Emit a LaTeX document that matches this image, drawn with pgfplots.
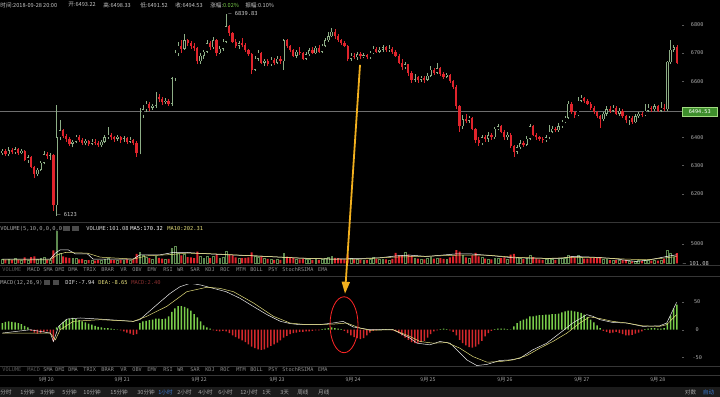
\documentclass[border=0pt]{standalone}
\usepackage{pgfplots}
\pgfplotsset{compat=1.18}
\usepackage{pgfplotstable}
\usepackage{fontspec}
\setmainfont{DejaVu Sans Mono}
\newfontfamily\cjk{Noto Sans CJK SC}
\usetikzlibrary{arrows.meta}
\definecolor{cred}{HTML}{E0242C}
\definecolor{cgreen}{HTML}{8DAE86}
\definecolor{vgreen}{HTML}{5E8A50}
\definecolor{mgreen}{HTML}{79CC4A}
\definecolor{mred}{HTML}{D3282C}
\definecolor{dea}{HTML}{E2DC7A}
\definecolor{txt}{HTML}{A8A8A8}
\definecolor{toptxt}{HTML}{C8C8C8}
\definecolor{dimtxt}{HTML}{5A5A5A}
\definecolor{sep}{HTML}{363636}
\definecolor{tickc}{HTML}{5A5A5A}
\definecolor{arrowc}{HTML}{F2B01E}
\definecolor{blu}{HTML}{3A78D0}
\definecolor{lbl}{HTML}{3E8E2C}
\definecolor{barbg}{HTML}{1C1C1C}
\definecolor{boxc}{HTML}{4A4A4A}
\definecolor{cross}{HTML}{6E6E6E}
\definecolor{macdt}{HTML}{8A3030}

\pgfplotstableread{
o h l c v m
6345 6360 6338 6352 1100 12
6352 6358 6333 6340 900 14
6340 6365 6336 6355 1000 15
6355 6362 6340 6348 800 14
6348 6368 6342 6358 1200 13
6358 6363 6338 6345 900 12
6345 6360 6340 6352 700 10
6352 6356 6315 6320 1500 7
6320 6338 6310 6330 900 4
6330 6333 6290 6295 1600 -2
6295 6300 6255 6270 1800 -5
6270 6292 6262 6285 1100 -7
6285 6318 6280 6310 1300 -6
6310 6352 6305 6340 1500 -4
6340 6348 6325 6335 900 -3
6335 6345 6320 6338 800 -6
6338 6342 6140 6160 3300 -21
6160 6515 6123 6400 8200 4
6400 6462 6390 6425 2600 8
6425 6430 6398 6405 1800 14
6405 6412 6385 6395 1500 18
6395 6400 6370 6378 1400 20
6378 6392 6365 6385 1200 21
6385 6410 6380 6402 1300 19
6402 6408 6385 6392 1000 17
6392 6398 6375 6380 1100 15
6380 6395 6372 6388 900 13
6388 6392 6370 6378 800 11
6378 6393 6372 6385 900 9
6385 6395 6375 6380 700 7
6380 6388 6368 6372 800 5
6372 6390 6368 6385 900 4
6385 6410 6380 6400 1100 3
6400 6437 6395 6410 1300 3
6410 6415 6392 6400 900 2
6400 6405 6385 6395 800 1
6395 6408 6388 6402 700 0.5
6402 6406 6382 6390 900 -1
6390 6405 6385 6398 800 -3
6398 6402 6378 6385 1000 -5
6385 6400 6380 6392 900 -7
6392 6396 6372 6380 1000 -9
6380 6388 6330 6345 2400 -8
6345 6505 6340 6480 2900 12
6480 6515 6470 6500 2000 15
6500 6530 6490 6520 1600 16
6520 6525 6495 6505 1300 17
6505 6520 6498 6512 1100 18
6512 6562 6505 6545 1900 20
6545 6555 6525 6535 1400 20
6535 6542 6515 6525 1200 19
6525 6540 6518 6530 1000 20
6530 6536 6512 6520 1100 24
6520 6615 6512 6610 3800 32
6610 6710 6600 6700 4300 38
6700 6740 6690 6725 2600 42
6725 6745 6700 6715 2000 42
6715 6767 6710 6745 2300 41
6745 6750 6725 6735 1600 38
6735 6742 6715 6725 1500 34
6725 6735 6708 6718 1300 28
6718 6722 6660 6670 3000 22
6670 6700 6662 6690 1700 15
6690 6712 6680 6705 1400 8
6705 6745 6700 6735 1900 4
6735 6742 6710 6720 1300 2
6720 6758 6715 6745 1700 -1
6745 6750 6690 6700 2200 -2
6700 6725 6695 6715 1300 -3
6715 6750 6708 6740 1600 -2
6740 6839.83 6735 6795 3200 -3
6795 6800 6760 6770 2100 -6
6770 6775 6735 6740 2000 -10
6740 6748 6718 6725 1500 -13
6725 6742 6715 6735 1200 -16
6735 6752 6720 6728 1300 -19
6728 6735 6705 6710 1400 -22
6710 6715 6690 6695 1500 -26
6695 6700 6625 6640 2800 -30
6640 6690 6635 6680 1900 -33
6680 6712 6672 6700 1500 -35
6700 6705 6660 6665 1800 -36
6665 6680 6655 6672 1200 -35
6672 6680 6652 6660 1100 -32
6660 6685 6655 6675 1000 -29
6675 6682 6658 6665 900 -26
6665 6690 6660 6680 1000 -23
6680 6688 6662 6670 900 -19
6670 6750 6640 6745 2600 -14
6745 6750 6718 6725 1700 -11
6725 6730 6702 6710 1300 -8
6710 6715 6685 6690 1400 -6
6690 6712 6682 6705 1100 -5
6705 6722 6692 6700 1000 -4
6700 6705 6675 6680 1200 -4
6680 6705 6675 6695 1000 -3
6695 6718 6688 6710 1100 -3
6710 6720 6695 6700 900 -2
6700 6725 6695 6718 1000 -1
6718 6728 6700 6705 900 -1
6705 6732 6700 6725 1100 1
6725 6752 6720 6745 1400 2
6745 6775 6740 6760 1500 3
6760 6789 6755 6775 1700 4
6775 6785 6750 6760 1400 3
6760 6768 6740 6745 1300 2
6745 6750 6728 6735 1100 1
6735 6742 6720 6725 1000 -2
6725 6730 6670 6680 2200 -6
6680 6700 6672 6690 1300 -10
6690 6700 6678 6685 1000 -13
6685 6705 6675 6695 1100 -15
6695 6702 6680 6688 900 -17
6688 6700 6682 6692 800 -15
6692 6698 6678 6685 900 -10
6685 6708 6680 6700 1100 -5
6700 6725 6695 6715 1500 -2
6715 6720 6700 6705 1100 -1
6705 6722 6700 6712 1000 0.5
6712 6728 6705 6720 1100 1
6720 6725 6702 6710 1000 1
6710 6728 6705 6715 900 0.5
6715 6720 6698 6705 1100 -1
6705 6710 6685 6690 2700 -3
6690 6695 6660 6665 1900 -6
6665 6680 6640 6650 2000 -10
6650 6668 6642 6660 2900 -14
6660 6662 6620 6630 2200 -18
6630 6635 6595 6605 1900 -22
6605 6625 6598 6615 1400 -24
6615 6620 6595 6605 1200 -24
6605 6620 6598 6612 1100 -22
6612 6618 6595 6605 1000 -20
6605 6630 6600 6620 1200 -14
6620 6655 6615 6640 1600 -8
6640 6645 6622 6630 1200 -3
6630 6664 6625 6645 1400 -1
6645 6650 6620 6625 1300 1
6625 6632 6608 6615 1100 2
6615 6630 6610 6622 1000 1
6622 6625 6595 6600 1500 -1
6600 6605 6572 6580 1800 -4
6580 6585 6500 6510 3400 -10
6510 6515 6420 6440 3000 -18
6440 6480 6430 6465 2100 -24
6465 6482 6450 6460 1500 -28
6460 6478 6450 6470 1300 -31
6470 6472 6425 6430 2000 -32
6430 6435 6380 6390 2700 -30
6390 6400 6370 6380 1800 -26
6380 6410 6372 6400 1600 -20
6400 6410 6385 6395 1200 -12
6395 6418 6385 6408 1100 -6
6408 6415 6392 6400 1000 -2
6400 6438 6395 6430 1300 1
6430 6448 6425 6440 1200 2
6440 6445 6415 6420 1300 2
6420 6425 6392 6400 1500 2
6400 6418 6392 6410 1100 1
6410 6415 6362 6370 2200 0.5
6370 6375 6331 6350 2400 6
6350 6372 6340 6365 1600 12
6365 6392 6358 6380 1400 16
6380 6388 6368 6375 1100 18
6375 6405 6370 6395 1300 20
6395 6448 6390 6440 2000 24
6440 6445 6405 6410 1600 24
6410 6415 6392 6400 1200 25
6400 6405 6388 6395 1000 26
6395 6400 6382 6390 900 26
6390 6410 6385 6400 1000 27
6400 6445 6395 6420 1300 27
6420 6440 6415 6430 1100 28
6430 6438 6418 6425 900 28
6425 6450 6420 6440 1100 29
6440 6462 6435 6455 1200 31
6455 6478 6450 6470 1300 33
6470 6530 6465 6520 2200 34
6520 6525 6485 6490 1800 34
6490 6495 6470 6480 1500 33
6480 6545 6475 6530 2200 32
6530 6551 6525 6540 1500 30
6540 6545 6522 6530 1200 27
6530 6538 6515 6520 1200 23
6520 6525 6498 6505 1300 18
6505 6510 6482 6490 1400 13
6490 6495 6468 6475 1300 8
6475 6480 6434 6465 1500 3
6465 6492 6460 6485 1100 -2
6485 6510 6478 6500 1000 -4
6500 6512 6488 6495 800 -6
6495 6515 6490 6505 700 -5
6505 6510 6480 6485 900 -4
6485 6505 6478 6495 700 -6
6495 6500 6470 6475 800 -8
6475 6480 6450 6462 900 -10
6462 6478 6445 6470 600 -10
6470 6475 6448 6455 500 -9
6455 6482 6450 6475 600 -7
6475 6492 6470 6485 700 -5
6485 6492 6472 6480 600 -3
6480 6520 6475 6495 900 1
6495 6520 6490 6505 800 2
6505 6512 6492 6500 700 3
6500 6520 6495 6510 800 3
6510 6515 6490 6495 700 2
6495 6525 6490 6505 900 2
6505 6520 6495 6500 1100 3
6500 6672 6495 6668 3400 12
6668 6746 6660 6712 2500 25
6712 6730 6705 6720 1600 38
6720 6730 6660 6665 2600 45
}\candles

\pgfplotsset{
  panel/.style={scale only axis, width=682pt, xmin=-0.625, xmax=212.5,
    axis x line=none, axis y line*=right, y axis line style={draw=none},
    tick align=outside, major tick length=2.5pt, ytick style={draw=tickc, line width=0.4pt},
    yticklabel style={font=\fontsize{5.2}{6}\selectfont, text=txt, anchor=center, xshift=13pt},
    anchor=south west},
  up/.style={restrict x to domain=-5:300, forget plot},
}
\newcommand{\upx}{\thisrow{c}>=\thisrow{o} ? \coordindex : -100}
\newcommand{\dnx}{\thisrow{c}<\thisrow{o} ? \coordindex : -100}

\begin{document}
\begin{tikzpicture}[x=1pt,y=1pt,
  tx/.style={anchor=west, inner sep=0pt, font=\fontsize{5.4}{6}\selectfont, text=txt},
  cx/.style={anchor=west, inner sep=0pt, font=\fontsize{5.6}{6}\selectfont\cjk, text=txt}]
\fill[black] (0,0) rectangle (720,397);
\fill[barbg] (0,0) rectangle (720,10);
% separators
\draw[sep, line width=0.6pt] (0,175) -- (720,175);
\draw[sep, line width=0.5pt] (0,131.5) -- (720,131.5);
\draw[sep, line width=0.5pt] (0,121) -- (720,121);
\draw[sep, line width=0.5pt] (0,30) -- (720,30);
\draw[sep, line width=0.5pt] (0,21) -- (720,21);
% crosshair
\draw[cross, line width=0.4pt] (0,286.06) -- (682,286.06);

% ---------------- main price panel
\begin{axis}[panel, at={(0pt,176pt)}, height=211pt, ymin=6104.3, ymax=6852.5,
  ytick={6200,6300,6400,6600,6700,6800},
  yticklabels={6200,6300,6400,6600,6700,6800}]
\addplot[up, cred, line width=0.5pt, quiver={u=0, v=\thisrow{h}-\thisrow{l}}]
  table[x expr={\dnx}, y=l] {\candles};
\addplot[up, cred, line width=2.2pt, quiver={u=0, v={max(\thisrow{o}-\thisrow{c},1.5)}}]
  table[x expr={\dnx}, y=c] {\candles};
\addplot[up, cgreen, line width=0.5pt, quiver={u=0, v=\thisrow{h}-\thisrow{l}}]
  table[x expr={\upx}, y=l] {\candles};
\addplot[up, cgreen, line width=2.3pt, quiver={u=0, v={max(\thisrow{c}-\thisrow{o},1.5)}}]
  table[x expr={\upx}, y=o] {\candles};
\addplot[up, black, line width=1.4pt, quiver={u=0, v={max(\thisrow{c}-\thisrow{o}-3.2,0)}}]
  table[x expr={\upx}, y expr=\thisrow{o}+1.6] {\candles};
\end{axis}

% ---------------- volume panel
\begin{axis}[panel, at={(0pt,133.5pt)}, height=32.5pt, ymin=0, ymax=8333,
  ytick={5000}, yticklabels={5000}]
\addplot[up, ybar, bar width=2.0pt, bar shift=0pt, fill=cred, draw=none]
  table[x expr={\dnx}, y=v] {\candles};
\addplot[up, ybar, bar width=1.8pt, bar shift=0pt, fill=black, draw=vgreen, line width=0.4pt]
  table[x expr={\upx}, y=v] {\candles};
\addplot[white, line width=0.5pt] coordinates {(0,1070) (15,1070) (16.6,2600) (18.1,3450) (20.6,3450) (22.8,2430) (26.6,2430) (28.4,1070) (40.9,1070) (43.1,2180) (49.4,2180) (53.4,2770) (57.8,2770) (64.1,2430) (70.3,2180) (78.4,1920) (86.9,1580) (93.1,1320) (103.4,1070) (111.9,1240) (118.1,1410) (123.4,1920) (127.5,2090) (132.8,1750) (142.2,2430) (146.25,2430) (153.4,1920) (159.7,1410) (165.9,1320) (174.4,1240) (178.4,1750) (184.7,1580) (190.9,1240) (195.3,730) (198.4,470) (202.5,900) (207.8,1750) (210.9,2180)};
\addplot[dea, line width=0.5pt] coordinates {(0,900) (15,900) (17.2,2180) (19.7,2770) (26.6,2600) (30.6,1580) (40.9,1070) (45.3,1920) (51.6,2180) (57.8,2600) (65.9,2430) (74.4,2090) (82.8,1750) (91,1400) (103.4,1070) (111.9,1070) (122.2,1580) (130.6,1750) (143.1,2090) (151.6,2090) (159.7,1580) (170.3,1240) (178.4,1500) (186.9,1410) (195.3,1070) (201.6,900) (207.8,1410) (210.9,1750)};
\end{axis}

% ---------------- MACD panel
\begin{axis}[panel, at={(0pt,31pt)}, height=81pt, ymin=-64.3, ymax=80.4,
  ytick={-50,0,50}, yticklabels={-50,0,50}]
\addplot[restrict x to domain=-5:300, forget plot, ybar, bar width=1.5pt, bar shift=0pt, fill=mgreen, draw=none]
  table[x expr={\thisrow{m}>0 ? \coordindex : -100}, y=m] {\candles};
\addplot[restrict x to domain=-5:300, forget plot, ybar, bar width=1.5pt, bar shift=0pt, fill=mred, draw=none]
  table[x expr={\thisrow{m}<0 ? \coordindex : -100}, y=m] {\candles};
\addplot[white!92!black, line width=0.5pt] coordinates {(0,-6) (8.75,0) (15,-6) (16,-21) (17.6,6) (20.2,19) (24.4,21) (30.6,19) (41,15) (43,18) (46,33) (49,48) (52.5,65) (55.6,77) (58.8,83) (62,80) (66,74) (70,68) (74.4,56) (78.4,42) (82.8,27) (87,15) (90,11) (93,9) (99,9) (103.4,12) (106.6,15) (109.7,5) (111.9,3) (115,0) (122.2,0) (127.5,-15) (129.7,-24) (133.75,-27) (136.9,-21) (140,-24) (142.2,-36) (145.3,-54) (148.4,-64) (151.6,-62) (155.6,-55) (158.75,-54) (161.9,-51) (165.9,-36) (170.3,-24) (174.4,-6) (178.4,12) (182.8,27) (184.7,24) (186.9,18) (190.9,13) (195.3,12) (200.3,6) (205.6,7) (207.8,12) (210.9,49)};
\addplot[dea, line width=0.5pt] coordinates {(0,-6) (15,-6) (16.6,-18) (18.1,0) (22.2,15) (30.6,18) (41,15) (45.2,24) (51.5,42) (57.7,68) (64,76) (68.1,74) (72.3,68) (78.5,48) (84.8,24) (90,12) (95.2,9) (103.5,10) (107.7,12) (111.9,3) (115,-1) (122.2,0) (127.5,-12) (130.6,-21) (134.7,-24) (139.1,-23) (143.1,-33) (147.2,-48) (151.6,-58) (155.6,-57) (159.7,-54) (164.1,-46) (168.1,-33) (172.2,-21) (176.6,-6) (180.6,12) (183.75,23) (186.9,20) (190.9,15) (195.3,12) (200.3,7) (205.6,6) (207.8,9) (210.9,27)};
\end{axis}

% ---------------- texts
\node[cx, text=toptxt] at (0,392) {时间:2018-09-28 20:00};
\node[cx, text=toptxt] at (68,392) {开:6493.22};
\node[cx, text=toptxt] at (103,392) {高:6498.33};
\node[cx, text=toptxt] at (140,392) {低:6491.52};
\node[cx, text=toptxt] at (175,392) {收:6494.53};
\node[cx, text=toptxt] at (210,392) {涨幅:\textcolor{mgreen}{0.02\%}};
\node[cx, text=toptxt] at (245,392) {振幅:0.10\%};
\node[tx, text=toptxt] at (228,383) {– 6839.83};
\node[tx, text=toptxt] at (57,182) {– 6123};
\node[fill=lbl, draw=mgreen!70!white, line width=0.3pt, text=white, inner sep=1pt,
  minimum width=35pt, minimum height=8.5pt, font=\fontsize{5.2}{6}\selectfont] at (700,285.5) {6494.53};

% volume header
\node[tx] at (0,168) {VOLUME(5,10,0,0,0,0)};
\fill[boxc] (63,165.5) rectangle (70,171);
\fill[boxc] (72,165.5) rectangle (79,171);
\node[tx, text=white!85!black] at (86,168) {VOLUME:101.08};
\node[tx, text=white] at (130,168) {MA5:170.32};
\node[tx, text=dea] at (167,168) {MA10:202.31};
\node[tx, text=toptxt] at (683,133.5) {– 101.08};

% MACD header
\node[tx] at (0,114) {MACD(12,26,9)};
\fill[boxc] (44,111.5) rectangle (50,117);
\fill[boxc] (53,111.5) rectangle (59,117);
\node[tx, text=white!90!black] at (65,114) {DIF:-7.94};
\node[tx, text=dea] at (98,114) {DEA:-8.65};
\node[tx, text=macdt] at (131,114) {MACD:2.40};

% tab rows
\foreach \xx/\w in {27/MACD,43/SMA,55/DMI,68/DMA,83/TRIX,101/BRAR,120/VR,132/OBV,147/EMV,163/RSI,177/WR,190/SAR,205/KDJ,220/ROC,236/MTM,250/BOLL,268/PSY,282/StochRSI,307/MA,318/EMA}
  {\node[tx, font=\fontsize{5.2}{6}\selectfont, text=txt!85!black] at (\xx,127) {\w};}
\node[tx, font=\fontsize{5.2}{6}\selectfont, text=dimtxt] at (2,127) {VOLUME};
\foreach \xx/\w in {43/SMA,55/DMI,68/DMA,83/TRIX,101/BRAR,120/VR,132/OBV,147/EMV,163/RSI,177/WR,190/SAR,205/KDJ,220/ROC,236/MTM,250/BOLL,268/PSY,282/StochRSI,307/MA,318/EMA}
  {\node[tx, font=\fontsize{5.2}{6}\selectfont, text=txt!85!black] at (\xx,27) {\w};}
\node[tx, font=\fontsize{5.2}{6}\selectfont, text=dimtxt] at (2,27) {VOLUME};
\node[tx, font=\fontsize{5.2}{6}\selectfont, text=dimtxt] at (27,27) {MACD};

% dates
\foreach \xx/\d in {46/20,122/21,199/22,277/23,353/24,428/25,505/26,582/27,658/28}
  {\node[inner sep=0pt, font=\fontsize{5.2}{6}\selectfont\cjk, text=txt] at (\xx,17) {9月 \d};}

% bottom bar
\foreach \xx/\w in {0/分时,20/1分钟,40/3分钟,62/5分钟,83/10分钟,110/15分钟,137/30分钟,177/2小时,198/4小时,218/6小时,240/12小时,262/1天,280/3天,297/周线,318/月线}
  {\node[cx, text=txt] at (\xx,4.5) {\w};}
\node[cx, text=blu] at (158,4.5) {1小时};
\node[cx, text=txt] at (685,4.5) {对数};
\node[cx, text=blu] at (703,4.5) {自动};

% annotations
\draw[red!85!white, line width=0.8pt] (344,72) ellipse (14 and 28);
\draw[arrowc, line width=1.8pt, -{Triangle[width=8pt,length=12pt]}] (360,332) -- (345,103);
\end{tikzpicture}
\end{document}
